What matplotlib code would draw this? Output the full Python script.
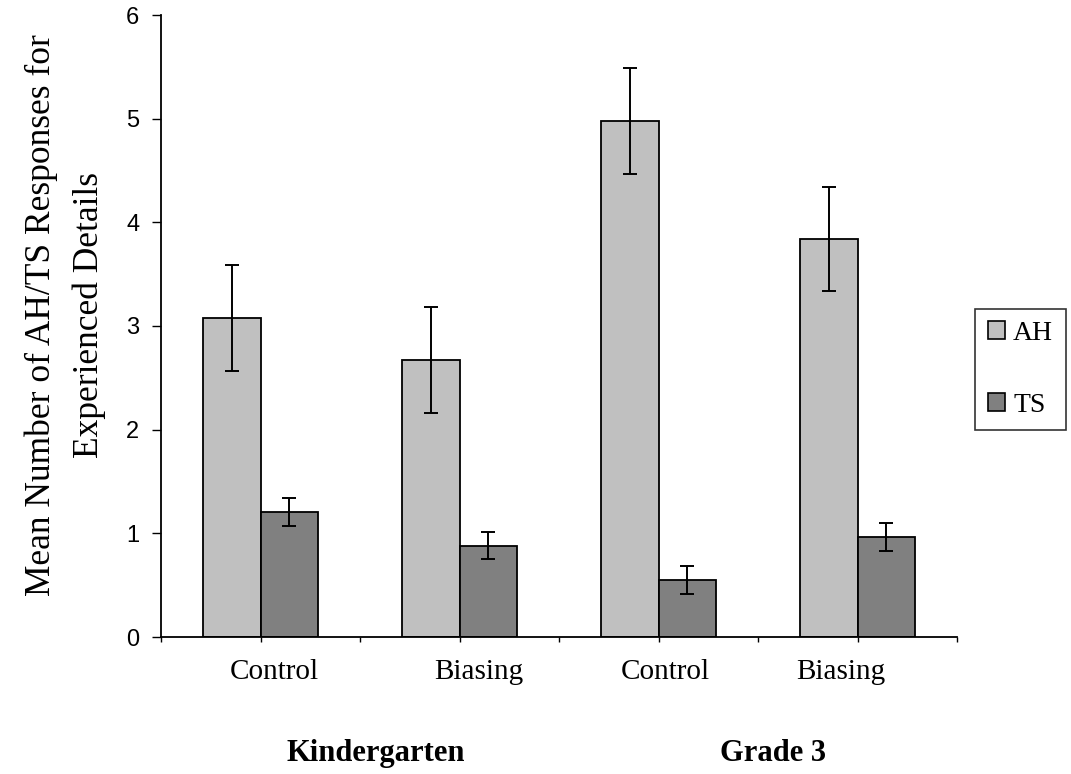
import numpy as np
import matplotlib
matplotlib.use("Agg")
import matplotlib.pyplot as plt
from matplotlib.patches import Patch

conditions = ["Control", "Biasing", "Control", "Biasing"]
grades = ["Kindergarten", "Grade 3"]
ah_mean = [3.08, 2.67, 4.98, 3.84]
ah_err = [0.51, 0.51, 0.51, 0.50]
ts_mean = [1.21, 0.88, 0.55, 0.96]
ts_err = [0.135, 0.13, 0.135, 0.135]

serif = ["Liberation Serif", "DejaVu Serif"]
sans = ["Liberation Sans", "DejaVu Sans"]

W, H = 1071, 774
fig = plt.figure(figsize=(W / 100, H / 100), dpi=100)
ax = fig.add_axes([161 / W, 1 - 637 / H, 796 / W, 622 / H])

x = np.arange(len(conditions))
w = 0.29
err_kw = dict(ecolor="black", elinewidth=1.4, capsize=5, capthick=1.4)
ax.bar(x - w / 2, ah_mean, w, color="#c0c0c0", edgecolor="black",
       linewidth=1.3, yerr=ah_err, error_kw=err_kw, label="AH")
ax.bar(x + w / 2, ts_mean, w, color="#808080", edgecolor="black",
       linewidth=1.3, yerr=ts_err, error_kw=err_kw, label="TS")

ax.set_xlim(-0.5, 3.5)
ax.set_ylim(0, 6)
ax.set_yticks(range(0, 7))
ax.set_xticks(np.arange(-0.5, 3.51, 0.5))
ax.set_xticklabels([])
ax.tick_params(axis="y", direction="out", length=6.5, width=1, pad=9,
               labelsize=17)
ax.tick_params(axis="x", direction="out", length=3.6, width=1)
for lab in ax.get_yticklabels():
    lab.set_family(sans)

for s in ["top", "right"]:
    ax.spines[s].set_visible(False)
for s in ["left", "bottom"]:
    ax.spines[s].set_linewidth(1.3)

# category labels sit a little off the bar pairs, as in the Excel layout
trans = ax.get_xaxis_transform()
for lx, name in zip([0.068, 1.098, 2.033, 2.917], conditions):
    ax.text(lx, -0.056, name, transform=trans, ha="center", va="center",
            fontsize=21, family=serif)
for gx, name in zip([0.58, 2.575], grades):
    ax.text(gx, -0.187, name, transform=trans, ha="center", va="center",
            fontsize=22, fontweight="bold", family=serif)

fig.text(65 / W, 1 - 315 / H,
         "Mean Number of AH/TS Responses for\nExperienced Details",
         rotation=90, ha="center", va="center", fontsize=25.5,
         family=serif, linespacing=1.55, multialignment="center")

handles = [Patch(facecolor="#c0c0c0", edgecolor="black", linewidth=1.2),
           Patch(facecolor="#808080", edgecolor="black", linewidth=1.2)]
leg = fig.legend(handles, ["AH", "TS"], loc="center left",
                 bbox_to_anchor=(975 / W, 1 - 369.5 / H),
                 prop={"family": serif, "size": 20}, frameon=True,
                 fancybox=False, edgecolor="black", borderpad=0.45,
                 labelspacing=1.69, handlelength=0.62, handleheight=0.62,
                 handletextpad=0.3, borderaxespad=0)
leg.get_frame().set_linewidth(1.2)

fig.savefig("out.png", dpi=100)
